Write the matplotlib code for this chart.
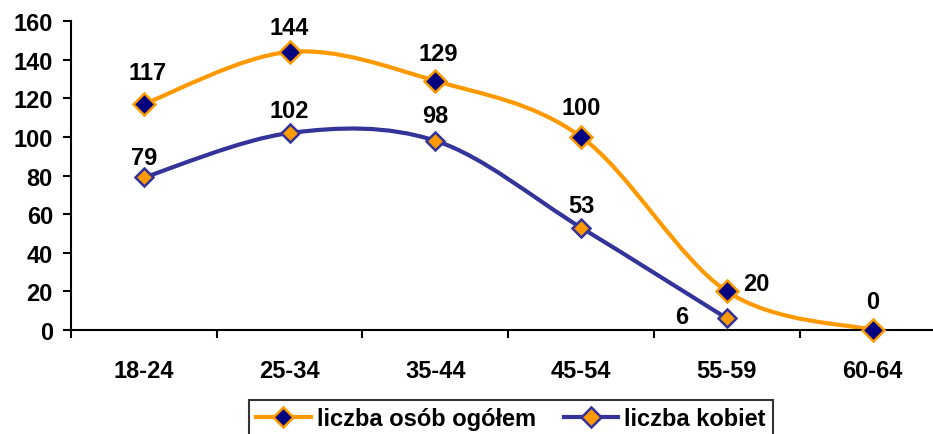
import matplotlib.pyplot as plt
from matplotlib.path import Path
from matplotlib.patches import PathPatch
from matplotlib.lines import Line2D

plt.rcParams['font.family'] = ['Liberation Sans', 'DejaVu Sans']
plt.rcParams['font.weight'] = 'bold'

categories = ["18-24", "25-34", "35-44", "45-54", "55-59", "60-64"]
total = [117, 144, 129, 100, 20, 0]
women = [79, 102, 98, 53, 6]

ORANGE = "#FF9900"
NAVY = "#000080"
BLUE = "#333399"

# label offsets (points) relative to each marker
total_off = [(3, 18), (0, 13), (2, 15), (0, 16.5), (11.5, 0.7), (0, 16)]
women_off = [(0, 9.5), (0, 11.5), (0, 13.5), (0, 11), (-28, -3.6)]


def smooth_path(xs, ys):
    # Excel-style smoothed line (cubic bezier through the points)
    pts = list(zip(xs, ys))
    verts = [pts[0]]
    codes = [Path.MOVETO]
    n = len(pts)
    for i in range(n - 1):
        p0 = pts[i - 1] if i > 0 else pts[i]
        p1 = pts[i]
        p2 = pts[i + 1]
        p3 = pts[i + 2] if i + 2 < n else pts[i + 1]
        c1 = (p1[0] + (p2[0] - p0[0]) / 6, p1[1] + (p2[1] - p0[1]) / 6)
        c2 = (p2[0] - (p3[0] - p1[0]) / 6, p2[1] - (p3[1] - p1[1]) / 6)
        verts += [c1, c2, p2]
        codes += [Path.CURVE4] * 3
    return Path(verts, codes)


fig = plt.figure(figsize=(9.33, 4.35), dpi=100)
ax = fig.add_axes([71 / 933, 104 / 435, 874.5 / 933, 309 / 435])

x_total = list(range(len(total)))
x_women = list(range(len(women)))

ax.add_patch(PathPatch(smooth_path(x_total, total), fill=False, edgecolor=ORANGE, lw=3, zorder=2))
ax.add_patch(PathPatch(smooth_path(x_women, women), fill=False, edgecolor=BLUE, lw=3, zorder=2))
ax.plot(x_total, total, ls="none", marker="D", ms=11, mfc=NAVY, mec=ORANGE, mew=1.8, zorder=3, clip_on=False)
ax.plot(x_women, women, ls="none", marker="D", ms=9.5, mfc=ORANGE, mec=BLUE, mew=1.8, zorder=3, clip_on=False)

fs = 17
for i, v in enumerate(total):
    dx, dy = total_off[i]
    ha = "left" if dx > 5 else ("right" if dx < -5 else "center")
    ax.annotate(str(v), (i, v), xytext=(dx, dy), textcoords="offset points",
                ha=ha, va="baseline", fontsize=fs)
for i, v in enumerate(women):
    dx, dy = women_off[i]
    ha = "left" if dx > 5 else ("right" if dx < -5 else "center")
    ax.annotate(str(v), (i, v), xytext=(dx, dy), textcoords="offset points",
                ha=ha, va="baseline", fontsize=fs)

ax.set_xlim(-0.5, len(categories) - 0.5)
ax.set_ylim(0, 160)
ax.set_yticks(range(0, 161, 20))
ax.set_xticks(range(len(categories)))
ax.set_xticklabels(categories)
ax.set_xticks([i + 0.5 for i in range(-1, len(categories) - 1)], minor=True)
ax.tick_params(axis="x", which="major", length=0, pad=21, labelsize=fs)
ax.tick_params(axis="x", which="minor", length=6, width=1.5, direction="out")
ax.tick_params(axis="y", length=6, width=1.5, direction="out", labelsize=fs, pad=7)
for s in ["top", "right"]:
    ax.spines[s].set_visible(False)
ax.spines["left"].set_linewidth(1.5)
ax.spines["bottom"].set_linewidth(1.5)

handles = [
    Line2D([], [], color=ORANGE, lw=3, marker="D", ms=10, mfc=NAVY, mec=ORANGE, mew=1.8),
    Line2D([], [], color=BLUE, lw=3, marker="D", ms=10, mfc=ORANGE, mec=BLUE, mew=1.8),
]
leg = fig.legend(handles, ["liczba osób ogółem", "liczba kobiet"], loc="upper center",
                 bbox_to_anchor=(511 / 933, 1 - 401 / 435), ncol=2, fancybox=False, frameon=True,
                 edgecolor="black", fontsize=fs, handlelength=2.3, columnspacing=1.2,
                 handletextpad=0.25, borderpad=0.3, borderaxespad=0)
leg.get_frame().set_linewidth(1.5)

fig.savefig("out.png", dpi=100)
